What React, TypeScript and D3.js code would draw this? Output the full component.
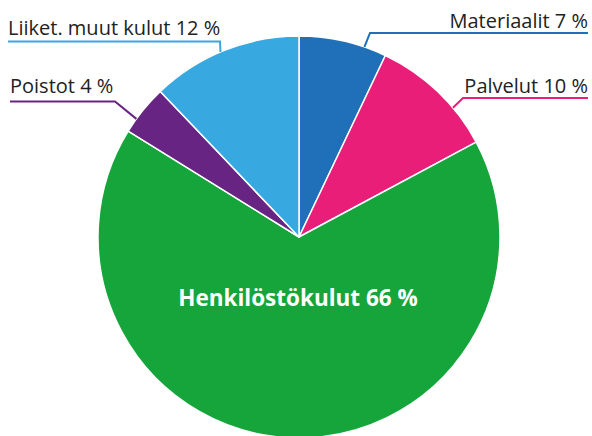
import React from "react";
import * as d3 from "d3";

const categories = ["Materiaalit", "Palvelut", "Henkilöstökulut", "Poistot", "Liiket. muut kulut"];
const values = [7, 10, 66, 4, 12];
const colors = ["#1f70b8", "#e91e78", "#16a53b", "#682482", "#38a8e0"];

// label layout: text anchor point, line path (elbow + end angle on arc)
const labelLayout = [
  { tx: 588, ty: 28, anchor: "end", lineX0: 588, lineX1: 370, lineY: 33, endAngleDeg: 19 },
  { tx: 588, ty: 93, anchor: "end", lineX0: 588, lineX1: 463, lineY: 98, endAngleDeg: 50 },
  null,
  { tx: 10, ty: 93, anchor: "start", lineX0: 10, lineX1: 115, lineY: 101.5, endAngleDeg: 306 },
  { tx: 8, ty: 35, anchor: "start", lineX0: 8, lineX1: 220, lineY: 41.5, endAngleDeg: 337 },
];

const W = 592, H = 436;
const cx = 299, cy = 237, R = 201;

export default function App() {
  const pie = d3.pie<number>().sort(null).value((d) => d);
  const arcs = pie(values);
  const arc = d3.arc<d3.PieArcDatum<number>>().innerRadius(0).outerRadius(R);
  const font = "'Open Sans', 'Noto Sans', sans-serif";
  return (
    <svg width={W} height={H} style={{ position: "absolute", left: 0, top: 0 }}>
      <g transform={`translate(${cx},${cy})`}>
        {arcs.map((a, i) => (
          <path key={i} d={arc(a) || ""} fill={colors[i]} stroke="#fff" strokeWidth={1.5} strokeLinejoin="round" />
        ))}
      </g>
      {labelLayout.map((l, i) => {
        if (!l) return null;
        const ang = (l.endAngleDeg * Math.PI) / 180;
        const ex = cx + R * Math.sin(ang);
        const ey = cy - R * Math.cos(ang);
        return (
          <g key={i}>
            <polyline
              points={`${l.lineX0},${l.lineY} ${l.lineX1},${l.lineY} ${ex},${ey}`}
              fill="none"
              stroke={colors[i]}
              strokeWidth={2}
            />
            <text x={l.tx} y={l.ty} textAnchor={l.anchor} fontFamily={font} fontSize={20} fill="#222">
              {`${categories[i]} ${values[i]} %`}
            </text>
          </g>
        );
      })}
      <text x={298} y={306} textAnchor="middle" fontFamily={font} fontSize={22.5} fontWeight="bold" fill="#fff">
        {`${categories[2]} ${values[2]} %`}
      </text>
    </svg>
  );
}
